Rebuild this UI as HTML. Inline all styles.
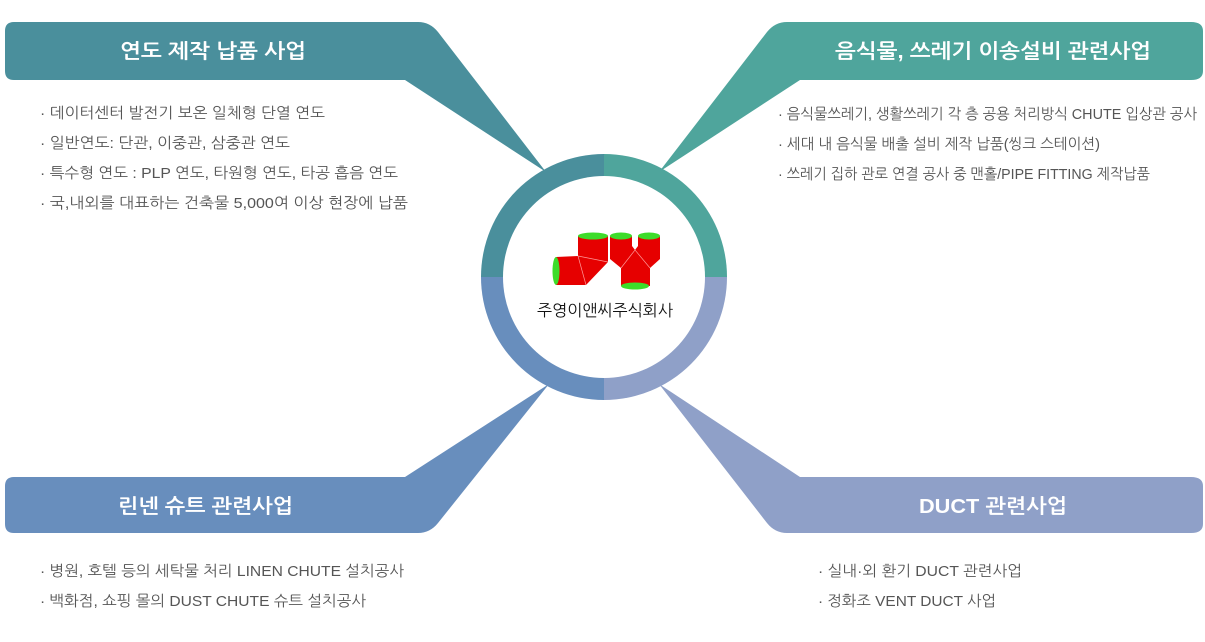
<!DOCTYPE html>
<html><head><meta charset="utf-8"><style>
html,body{margin:0;padding:0;background:#fff;}
body{width:1205px;height:637px;overflow:hidden;}
svg text{font-family:"Liberation Sans","NanumGothic","Noto Sans CJK KR",sans-serif;}
.t{fill:#fff;font-size:20px;font-weight:bold;}
.b{fill:#555;font-size:15px;}
</style></head><body>
<svg width="1205" height="637" viewBox="0 0 1205 637" xmlns="http://www.w3.org/2000/svg">
<path d="M14 22 H418 Q430 22 438 32 L546 172 L405 80 H14 Q5 80 5 71 V31 Q5 22 14 22 Z" fill="#4a8f9c"/>
<path d="M1191 22 H787 Q775 22 767 32 L659 172 L800 80 H1191 Q1203 80 1203 71 V31 Q1203 22 1191 22 Z" fill="#4fa59c"/>
<path d="M14 533 H418 Q430 533 438 523 L549 384 L405 477 H14 Q5 477 5 486 V524 Q5 533 14 533 Z" fill="#688ebd"/>
<path d="M1191 533 H787 Q775 533 767 523 L659 384 L800 477 H1191 Q1203 477 1203 486 V524 Q1203 533 1191 533 Z" fill="#8fa0c8"/>
<path d="M604 277 L481 277 A123 123 0 0 1 604 154 Z" fill="#4a8f9c"/>
<path d="M604 277 L604 154 A123 123 0 0 1 727 277 Z" fill="#4fa59c"/>
<path d="M604 277 L481 277 A123 123 0 0 0 604 400 Z" fill="#688ebd"/>
<path d="M604 277 L604 400 A123 123 0 0 0 727 277 Z" fill="#8fa0c8"/>
<circle cx="604" cy="277" r="101" fill="#fff"/>
<!-- logo -->
<polygon points="556,257 578,256 578,236 608,236 608,262 586,285 556,285" fill="#e60000"/>
<line x1="578" y1="256" x2="586" y2="285" stroke="#f99" stroke-width="0.7"/>
<line x1="578" y1="256" x2="608" y2="262" stroke="#f99" stroke-width="0.7"/>
<ellipse cx="556" cy="271" rx="3.5" ry="14" fill="#3ddc2a"/>
<ellipse cx="593" cy="236" rx="15" ry="3.5" fill="#3ddc2a"/>
<polygon points="610,236 632,236 632,246 635,250 638,246 638,236 660,236 660,259 650,268 650,286 621,286 621,268 610,259" fill="#e60000"/>
<polyline points="621,268 635,250 650,268" fill="none" stroke="#f99" stroke-width="0.7"/>
<ellipse cx="621" cy="236" rx="11" ry="3.5" fill="#3ddc2a"/>
<ellipse cx="649" cy="236" rx="11" ry="3.5" fill="#3ddc2a"/>
<ellipse cx="635" cy="286" rx="14" ry="3.5" fill="#3ddc2a"/>
<text x="537" y="316" font-size="16" fill="#111" textLength="136" lengthAdjust="spacingAndGlyphs">주영이앤씨주식회사</text>
<!-- titles -->
<text class="t" x="120" y="58" textLength="186" lengthAdjust="spacingAndGlyphs">연도 제작 납품 사업</text>
<text class="t" x="835" y="58" textLength="316" lengthAdjust="spacingAndGlyphs">음식물, 쓰레기 이송설비 관련사업</text>
<text class="t" x="118" y="513" textLength="175" lengthAdjust="spacingAndGlyphs">린넨 슈트 관련사업</text>
<text class="t" x="919" y="513" textLength="148" lengthAdjust="spacingAndGlyphs">DUCT 관련사업</text>
<!-- bullets -->
<text class="b" x="40" y="118" textLength="285" lengthAdjust="spacingAndGlyphs">· 데이터센터 발전기 보온 일체형 단열 연도</text>
<text class="b" x="40" y="148" textLength="250" lengthAdjust="spacingAndGlyphs">· 일반연도: 단관, 이중관, 삼중관 연도</text>
<text class="b" x="40" y="178" textLength="358" lengthAdjust="spacingAndGlyphs">· 특수형 연도 : PLP 연도, 타원형 연도, 타공 흡음 연도</text>
<text class="b" x="40" y="208" textLength="368" lengthAdjust="spacingAndGlyphs">· 국,내외를 대표하는 건축물 5,000여 이상 현장에 납품</text>
<text class="b" x="778" y="119" textLength="419" lengthAdjust="spacingAndGlyphs">· 음식물쓰레기, 생활쓰레기 각 층 공용 처리방식 CHUTE 입상관 공사</text>
<text class="b" x="778" y="149" textLength="322" lengthAdjust="spacingAndGlyphs">· 세대 내 음식물 배출 설비 제작 납품(씽크 스테이션)</text>
<text class="b" x="778" y="179" textLength="372" lengthAdjust="spacingAndGlyphs">· 쓰레기 집하 관로 연결 공사 중 맨홀/PIPE FITTING 제작납품</text>
<text class="b" x="40" y="576" textLength="364" lengthAdjust="spacingAndGlyphs">· 병원, 호텔 등의 세탁물 처리 LINEN CHUTE 설치공사</text>
<text class="b" x="40" y="606" textLength="326" lengthAdjust="spacingAndGlyphs">· 백화점, 쇼핑 몰의 DUST CHUTE 슈트 설치공사</text>
<text class="b" x="818" y="576" textLength="204" lengthAdjust="spacingAndGlyphs">· 실내·외 환기 DUCT 관련사업</text>
<text class="b" x="818" y="606" textLength="178" lengthAdjust="spacingAndGlyphs">· 정화조 VENT DUCT 사업</text>
</svg>
</body></html>
